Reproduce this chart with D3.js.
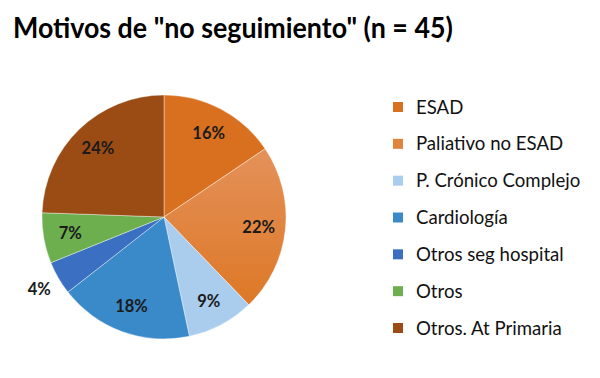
<!DOCTYPE html>
<html><head><meta charset="utf-8">
<script src="https://cdn.jsdelivr.net/npm/d3@7"></script>
<style>body{margin:0;background:#fff}svg{display:block}</style>
</head><body>
<script>
const title = 'Motivos de "no seguimiento" (n = 45)';
const categories = ["ESAD","Paliativo no ESAD","P. Crónico Complejo","Cardiología","Otros seg hospital","Otros","Otros. At Primaria"];
const counts = [7,10,4,8,2,3,11];
const labels = ["16%","22%","9%","18%","4%","7%","24%"];
const colors = ["#D8701F","#E0843C","#AACDEE","#3A89C9","#3B6FC2","#6DAE4F","#9A4C14"];

const W=600,H=378;
const svg=d3.select("body").append("svg").attr("width",W).attr("height",H);
const defs=svg.append("defs");
const g1=defs.append("linearGradient").attr("id","pal").attr("x1",0).attr("y1",0).attr("x2",0).attr("y2",1);
g1.append("stop").attr("offset","0%").attr("stop-color","#E4915A");
g1.append("stop").attr("offset","100%").attr("stop-color","#DD7826");

const t=svg.append("text").attr("x",0).attr("y",0).text(title)
  .attr("font-family","Lato").attr("font-weight","bold").attr("font-size",29).attr("fill","#000");
const tw=t.node().getComputedTextLength();
t.attr("transform",`translate(13,38) scale(${440/tw},1)`);

const cx=164,cy=217,R=122;
const pie=d3.pie().sort(null).value(d=>d);
const arcs=pie(counts);
const arc=d3.arc().innerRadius(0).outerRadius(R);
const gp=svg.append("g").attr("transform",`translate(${cx},${cy})`);
gp.selectAll("path").data(arcs).join("path").attr("d",arc)
  .attr("fill",(d,i)=>i===1?"url(#pal)":colors[i]).attr("stroke","#fff").attr("stroke-width",0.4);
const lab=d3.arc().innerRadius(R*0.78).outerRadius(R*0.78);
const labOut=d3.arc().innerRadius(R*1.18).outerRadius(R*1.18);
gp.selectAll("text").data(arcs).join("text")
  .attr("transform",(d,i)=>`translate(${(i===4?labOut:lab).centroid(d)})`)
  .attr("text-anchor","middle").attr("dy","0.35em")
  .attr("font-family","Lato").attr("font-weight","bold").attr("font-size",16.5).attr("fill","#1a1a1a")
  .text((d,i)=>labels[i]);

const leg=svg.append("g");
const ly=d3.scalePoint().domain(categories).range([107,328]);
categories.forEach((c,i)=>{
  leg.append("rect").attr("x",393).attr("y",ly(c)-5).attr("width",10).attr("height",10).attr("fill",colors[i]);
  leg.append("text").attr("x",416).attr("y",ly(c)).attr("dy","0.35em").text(c)
    .attr("font-family","Lato").attr("font-size",18.6).attr("fill","#111");
});
</script>
</body></html>
